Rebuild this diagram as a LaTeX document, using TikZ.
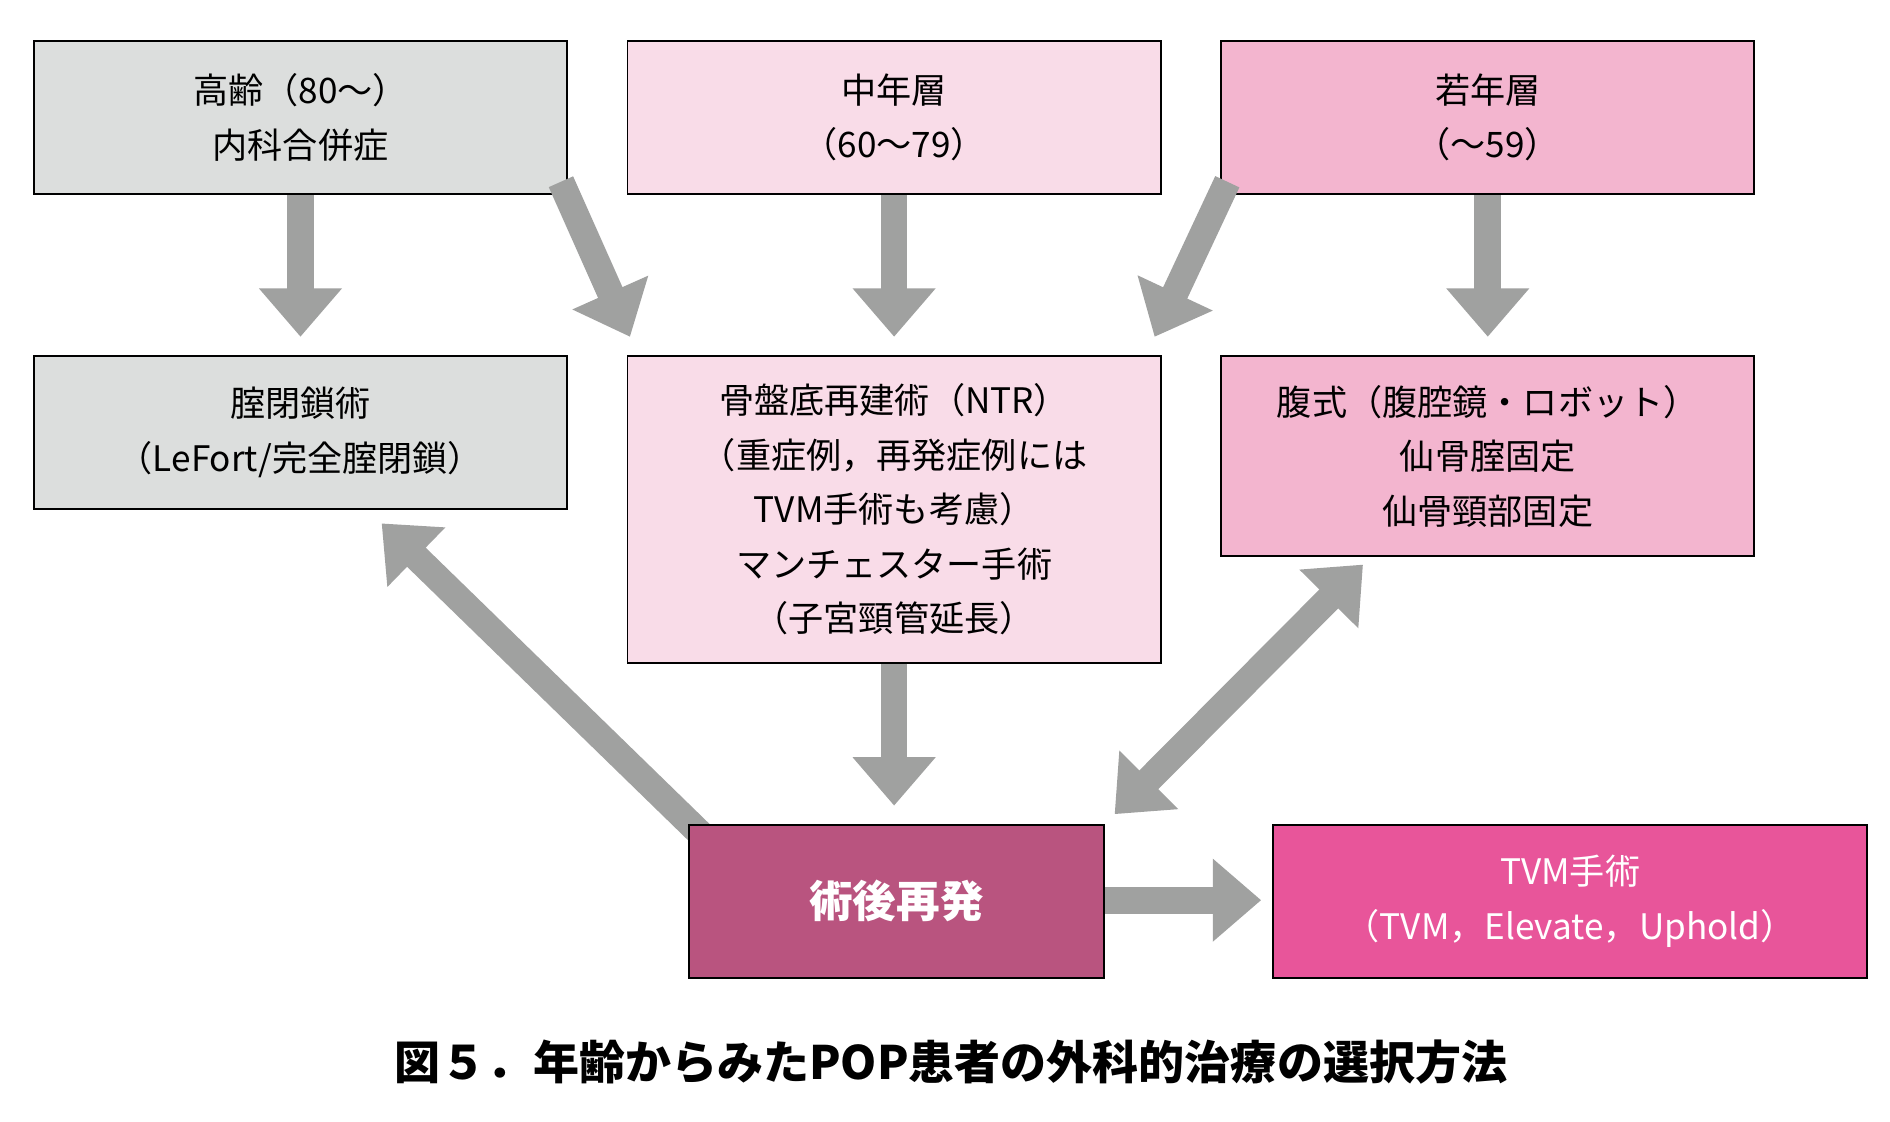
\documentclass[tikz,border=0pt]{standalone}
\usepackage{fontspec}
\setmainfont{Noto Sans CJK JP}
\usetikzlibrary{arrows.meta}
\definecolor{cgray}{HTML}{DCDEDD}
\definecolor{clp}{HTML}{F9DCE8}
\definecolor{cp}{HTML}{F3B5CF}
\definecolor{cdk}{HTML}{B9547F}
\definecolor{cmag}{HTML}{E8559A}
\definecolor{carr}{HTML}{A0A1A0}
\begin{document}
\begin{tikzpicture}[x=1pt,y=-1pt,
 box/.style={draw=black,line width=1.5pt,align=center,font=\fontsize{29}{45}\selectfont,inner sep=0pt},
 arr/.style={draw=carr,line width=22pt,-{Triangle[width=66pt 0 0,length=40pt 0 0]}},
 darr/.style={draw=carr,line width=22pt,{Triangle[width=66pt 0 0,length=40pt 0 0]}-{Triangle[width=66pt 0 0,length=40pt 0 0]}}]
\useasboundingbox[fill=white] (0,0) rectangle (1560,926);
\node[box,fill=cgray,minimum width=440pt,minimum height=126pt] (A) at (248,97) {高齢（80～）\\内科合併症};
\node[box,fill=clp,minimum width=440pt,minimum height=126pt] (B) at (738,97) {中年層\\（60～79）};
\node[box,fill=cp,minimum width=440pt,minimum height=126pt] (C) at (1228,97) {若年層\\（～59）};
\node[box,fill=cgray,minimum width=440pt,minimum height=126pt] (D) at (248,357) {腟閉鎖術\\（LeFort/完全腟閉鎖）};
\node[box,fill=clp,minimum width=440pt,minimum height=253pt] (E) at (738,420.5) {骨盤底再建術（NTR）\\（重症例，再発症例には\\TVM手術も考慮）\\マンチェスター手術\\（子宮頸管延長）};
\node[box,fill=cp,minimum width=440pt,minimum height=165pt] (F) at (1228,376.5) {腹式（腹腔鏡・ロボット）\\仙骨腟固定\\仙骨頸部固定};
\node[box,fill=cdk,text=white,font=\fontsize{36}{45}\selectfont\bfseries,minimum width=342pt,minimum height=126pt] (G) at (740,744) {術後再発};
\node[box,fill=cmag,text=white,minimum width=490pt,minimum height=126pt] (H) at (1296,744) {TVM手術\\（TVM，Elevate，Uphold）};
\node[font=\fontsize{38}{45}\selectfont\bfseries] (cap) at (785,877) {図５．年齢からみたPOP患者の外科的治療の選択方法};
\coordinate (a1) at (248,161); \coordinate (a2) at (248,278);
\coordinate (b1) at (463,150); \coordinate (b2) at (520,278);
\coordinate (c1) at (738,161); \coordinate (c2) at (738,278);
\coordinate (d1) at (1013,150); \coordinate (d2) at (953,278);
\coordinate (e1) at (1228,161); \coordinate (e2) at (1228,278);
\coordinate (f1) at (738,548); \coordinate (f2) at (738,665);
\coordinate (g1) at (578,688); \coordinate (g2) at (315,432);
\coordinate (h1) at (920,672); \coordinate (h2) at (1125,466);
\coordinate (i1) at (912,743); \coordinate (i2) at (1041,743);
\draw[arr] (a1)--(a2); \draw[arr] (b1)--(b2); \draw[arr] (c1)--(c2);
\draw[arr] (d1)--(d2); \draw[arr] (e1)--(e2); \draw[arr] (f1)--(f2);
\draw[arr] (g1)--(g2); \draw[darr] (h1)--(h2); \draw[arr] (i1)--(i2);
\node[box,fill=cdk,text=white,font=\fontsize{36}{45}\selectfont\bfseries,minimum width=342pt,minimum height=126pt] at (G) {術後再発};
\end{tikzpicture}
\end{document}
